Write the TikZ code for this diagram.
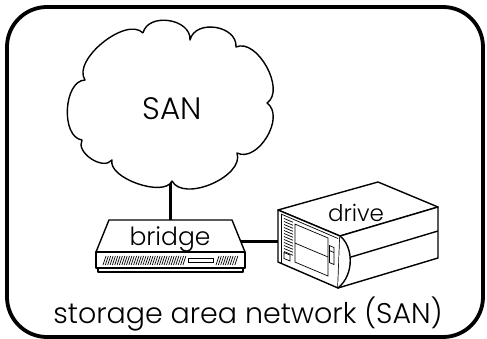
\documentclass[tikz,border=0pt]{standalone}
\usepackage{fontspec}
\setmainfont{Poppins}[UprightFont=* Light]
\begin{document}
\begin{tikzpicture}[x=1pt,y=-1pt,
  frame/.style={line width=3.8pt, rounded corners=40pt},
  outline/.style={line width=1.4pt, line join=round},
  fineline/.style={line width=0.7pt},
  link/.style={line width=3pt},
  txt/.style={inner sep=0pt, anchor=base}]
\useasboundingbox (0,0) rectangle (487,339);

% outer frame
\draw[frame] (7,7) rectangle (483,337);

% anchor points for the links
\coordinate (cloudfoot) at (170,178);
\coordinate (bridgetop) at (170,222);
\coordinate (bridgeside) at (240,241);
\coordinate (driveside) at (280,241);

% links
\draw[link] (cloudfoot) -- (bridgetop);
\draw[link] (bridgeside) -- (driveside);

% cloud
\draw[outline, fill=white]
  (143,33) to[bend left=85, looseness=1.16] (190,40)
           to[bend left=85, looseness=1.2]  (236,47)
           to[bend left=85, looseness=0.92] (267,103)
           to[bend left=85, looseness=1.02] (237,153)
           to[bend left=85, looseness=0.89] (172,181)
           to[bend left=85, looseness=0.75] (112,160)
           to[bend left=85, looseness=1.0]  (82,140)
           to[bend left=85, looseness=0.92] (85,80)
           to[bend left=85, looseness=0.82] (143,33);
\node[txt, font=\fontsize{31}{31}\selectfont] (san) at (172,120) {SAN};

% bridge
\draw[outline, fill=white] (109,220) -- (232,220) -- (245,252) -- (96,252) -- cycle;
\draw[outline, fill=white] (96,252) rectangle (245,268);
\draw[outline] (98,268) rectangle (243,272);
\foreach \x in {103,105.35,...,185} \draw[fineline] (\x,265) -- (\x+3,256);
\foreach \x in {216,218.35,...,236} \draw[fineline] (\x,265) -- (\x+3,256);
\draw[fineline] (188,258.5) rectangle (213,262.5);
\node[txt, font=\fontsize{25}{25}\selectfont] (bridge) at (170,245) {bridge};

% drive: top, side and front faces
\draw[outline, fill=white] (278,210) -- (378,182) -- (438,207) -- (340,236) -- cycle;
\draw[outline, fill=white] (340,236) -- (438,207) -- (438,258) -- (338,288) -- cycle;
\draw[outline] (351,257) -- (438,231);
\draw[outline, fill=white] (278,210) -- (340,236) -- (338,288) -- (278,262) -- cycle;
\draw[outline, fill=white] (340,236) .. controls (353,246) and (355,274) .. (338,288);
\draw[fineline] (281,214) -- (338,238.5);
\draw[fineline] (281,214) -- (281,262.5);
% vents
\foreach \v in {6,9,...,39} \draw[fineline] (284,212.5+\v) -- (293,216.3+\v);
\draw[fineline] (284,252.5) -- (290,255) -- (290,261) -- (284,258.5) -- cycle;
% bay
\draw[fineline] (295,224.1) -- (328,238) -- (328,276) -- (295,262.1) -- cycle;
\draw[fineline] (295,243.1) -- (328,257);
\draw[fineline] (329.5,245.6) -- (334,247.5) -- (334,264.5) -- (329.5,262.6) -- cycle;
\draw[fineline] (329.5,250.6) -- (334,252.5);
\node[txt, font=\fontsize{23}{23}\selectfont] (drive) at (356,222) {drive};

% caption
\node[txt, font=\fontsize{28.5}{28.5}\selectfont] (caption) at (248,323) {storage area network (SAN)};
\end{tikzpicture}
\end{document}
